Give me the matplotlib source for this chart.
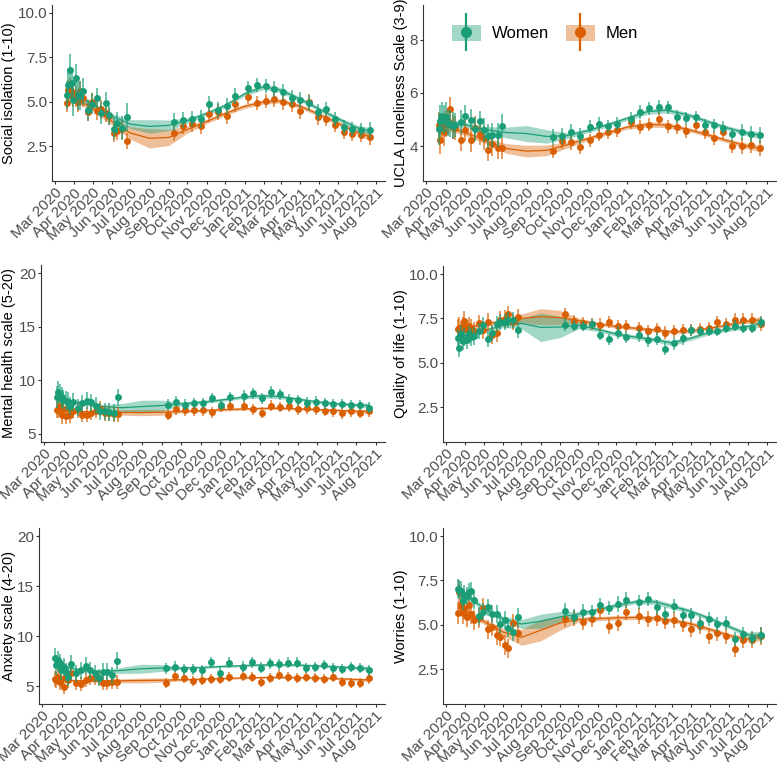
import matplotlib
matplotlib.use("Agg")
import matplotlib.pyplot as plt
import matplotlib.dates as mdates
from matplotlib.lines import Line2D
from matplotlib.patches import Patch
from matplotlib.legend_handler import HandlerTuple
import numpy as np
import pandas as pd

# survey waves (same for every outcome)
survey_dates = ["2020-03-21", "2020-03-23", "2020-03-26", "2020-03-29", "2020-03-31",
                "2020-04-04", "2020-04-07", "2020-04-11", "2020-04-15", "2020-04-23",
                "2020-04-30", "2020-05-08", "2020-05-14", "2020-05-22", "2020-05-28",
                "2020-06-04", "2020-06-10", "2020-06-18", "2020-06-25",
                "2020-09-10", "2020-09-24", "2020-10-08", "2020-10-22", "2020-11-05",
                "2020-11-19", "2020-12-03", "2020-12-17", "2021-01-07", "2021-01-21",
                "2021-02-04", "2021-02-18", "2021-03-04", "2021-03-18", "2021-04-01",
                "2021-04-15", "2021-04-29", "2021-05-13", "2021-05-27", "2021-06-10",
                "2021-06-24", "2021-07-08", "2021-07-22"]

fit_dates = ["2020-03-21", "2020-04-01", "2020-05-01", "2020-06-01", "2020-07-01",
             "2020-08-01", "2020-09-01", "2020-10-01", "2020-11-01", "2020-12-01",
             "2021-01-01", "2021-02-01", "2021-03-01", "2021-04-01", "2021-05-01",
             "2021-06-01", "2021-07-01", "2021-07-22"]

# Social isolation
iso_w = [5.40, 5.97, 6.77, 6.06, 5.08, 6.32, 5.37, 5.35, 5.59, 4.52, 4.90, 5.22, 4.37, 4.93, 4.24, 3.49, 3.81, 3.53, 4.15,
         3.87, 4.00, 4.05, 4.03, 4.88, 4.56, 4.75, 5.31, 5.80, 5.93, 5.91, 5.72, 5.57, 5.23, 5.10, 4.92, 4.41, 4.62, 4.05, 3.60, 3.47, 3.43, 3.40]
iso_m = [4.93, 5.65, 5.75, 5.55, 5.25, 5.30, 5.00, 5.63, 5.22, 4.41, 4.99, 4.50, 4.58, 4.37, 4.18, 3.25, 3.34, 3.45, 2.80,
         3.25, 3.62, 3.73, 3.66, 4.32, 4.41, 4.18, 4.88, 5.27, 4.95, 5.07, 5.14, 4.99, 4.88, 4.48, 4.97, 4.13, 4.05, 3.71, 3.30, 3.19, 3.15, 3.00]
iso_w_err = [0.8, 0.9, 0.9, 0.85, 0.9, 0.8, 0.85, 0.8, 0.75, 0.6, 0.6, 0.55, 0.6, 0.6, 0.55, 0.6, 0.6, 0.65, 0.8,
             0.5, 0.45, 0.45, 0.5, 0.45, 0.45, 0.45, 0.45, 0.4, 0.4, 0.4, 0.45, 0.45, 0.45, 0.45, 0.45, 0.45, 0.4, 0.4, 0.4, 0.4, 0.4, 0.45]
iso_m_err = [0.5, 0.6, 0.6, 0.6, 0.55, 0.6, 0.55, 0.55, 0.5, 0.5, 0.5, 0.5, 0.55, 0.5, 0.5, 0.5, 0.5, 0.55, 0.45,
             0.45, 0.45, 0.45, 0.45, 0.45, 0.45, 0.45, 0.45, 0.4, 0.4, 0.4, 0.4, 0.45, 0.45, 0.45, 0.45, 0.45, 0.4, 0.4, 0.4, 0.4, 0.4, 0.45]
iso_w_fit = [5.75, 5.45, 4.85, 4.20, 3.75, 3.62, 3.68, 3.95, 4.35, 4.80, 5.45, 5.85, 5.65, 5.15, 4.60, 4.05, 3.55, 3.35]
iso_m_fit = [5.45, 5.20, 4.65, 3.90, 3.25, 2.95, 3.00, 3.45, 3.90, 4.35, 4.75, 5.00, 5.05, 4.75, 4.30, 3.80, 3.30, 3.05]
iso_w_band = [0.35, 0.2, 0.15, 0.15, 0.25, 0.38, 0.3, 0.15, 0.12, 0.12, 0.12, 0.15, 0.15, 0.12, 0.12, 0.12, 0.15, 0.2]
iso_m_band = [0.35, 0.2, 0.15, 0.2, 0.35, 0.55, 0.45, 0.2, 0.12, 0.12, 0.12, 0.12, 0.12, 0.12, 0.12, 0.12, 0.15, 0.25]

# UCLA loneliness
ucla_w = [4.65, 4.95, 5.12, 5.00, 5.10, 4.87, 4.85, 4.78, 4.80, 4.91, 5.15, 5.00, 4.66, 4.94, 4.63, 4.38, 4.41, 4.44, 4.78,
          4.34, 4.38, 4.54, 4.40, 4.74, 4.84, 4.75, 4.85, 5.04, 5.29, 5.43, 5.48, 5.46, 5.11, 5.05, 5.09, 4.79, 4.79, 4.70, 4.45, 4.52, 4.45, 4.41]
ucla_m = [4.79, 4.22, 4.75, 4.52, 4.85, 4.94, 5.41, 4.71, 4.70, 4.22, 4.60, 4.25, 4.69, 4.46, 4.31, 3.85, 4.10, 3.93, 3.93,
          3.81, 4.19, 4.18, 3.98, 4.23, 4.44, 4.53, 4.60, 4.90, 4.73, 4.81, 5.04, 4.75, 4.73, 4.56, 4.81, 4.54, 4.31, 4.53, 4.00, 4.00, 4.04, 3.93]
ucla_w_err = [0.6, 0.6, 0.55, 0.55, 0.55, 0.5, 0.5, 0.5, 0.45, 0.45, 0.4, 0.4, 0.45, 0.4, 0.45, 0.45, 0.45, 0.45, 0.45,
              0.3, 0.3, 0.3, 0.3, 0.25, 0.25, 0.25, 0.25, 0.25, 0.25, 0.25, 0.25, 0.25, 0.25, 0.25, 0.25, 0.25, 0.25, 0.25, 0.25, 0.3, 0.3, 0.3]
ucla_m_err = [0.5, 0.5, 0.5, 0.5, 0.5, 0.5, 0.45, 0.45, 0.45, 0.4, 0.4, 0.45, 0.45, 0.4, 0.45, 0.4, 0.45, 0.4, 0.4,
              0.25, 0.3, 0.3, 0.25, 0.25, 0.25, 0.25, 0.25, 0.25, 0.25, 0.25, 0.25, 0.25, 0.25, 0.25, 0.25, 0.25, 0.25, 0.25, 0.25, 0.3, 0.3, 0.3]
ucla_w_fit = [4.95, 4.90, 4.80, 4.62, 4.52, 4.48, 4.37, 4.40, 4.58, 4.80, 5.05, 5.30, 5.35, 5.20, 4.95, 4.70, 4.50, 4.42]
ucla_m_fit = [4.85, 4.75, 4.50, 4.20, 3.92, 3.82, 3.85, 4.05, 4.28, 4.50, 4.72, 4.82, 4.80, 4.65, 4.45, 4.22, 4.02, 3.92]
ucla_w_band = [0.3, 0.15, 0.1, 0.12, 0.2, 0.3, 0.25, 0.12, 0.08, 0.08, 0.08, 0.1, 0.1, 0.08, 0.08, 0.08, 0.1, 0.13]
ucla_m_band = [0.3, 0.15, 0.1, 0.12, 0.18, 0.22, 0.2, 0.12, 0.08, 0.08, 0.08, 0.1, 0.1, 0.08, 0.08, 0.08, 0.1, 0.13]

# Mental health scale
mh_w = [8.46, 8.90, 8.75, 8.40, 8.20, 8.10, 8.00, 7.60, 7.95, 7.45, 7.85, 8.10, 7.95, 7.65, 7.10, 7.10, 7.05, 7.00, 8.40,
        7.74, 8.00, 7.74, 7.87, 7.87, 8.34, 7.71, 8.40, 8.56, 8.78, 8.31, 8.93, 8.68, 8.18, 8.12, 7.93, 8.00, 7.84, 7.78, 7.78, 7.71, 7.71, 7.46]
mh_m = [7.25, 7.30, 7.60, 6.77, 7.30, 6.70, 7.45, 6.75, 7.15, 7.20, 6.80, 6.80, 7.00, 7.15, 7.37, 6.93, 6.93, 6.83, 6.85,
        6.77, 7.30, 7.21, 7.21, 7.21, 7.02, 7.52, 7.62, 7.62, 7.30, 6.99, 7.62, 7.52, 7.59, 7.30, 7.40, 7.30, 7.15, 7.12, 6.93, 7.12, 6.99, 7.15]
mh_w_err = [1.0, 1.0, 0.95, 0.95, 0.9, 0.9, 0.9, 0.85, 0.85, 0.8, 0.8, 0.8, 0.8, 0.8, 0.8, 0.8, 0.8, 0.8, 0.8,
            0.55, 0.5, 0.5, 0.5, 0.5, 0.5, 0.5, 0.5, 0.55, 0.55, 0.55, 0.55, 0.55, 0.5, 0.5, 0.5, 0.5, 0.5, 0.5, 0.5, 0.5, 0.5, 0.55]
mh_m_err = [0.8, 0.8, 0.8, 0.8, 0.8, 0.75, 0.75, 0.75, 0.7, 0.7, 0.7, 0.7, 0.7, 0.7, 0.7, 0.7, 0.7, 0.7, 0.7,
            0.5, 0.5, 0.5, 0.5, 0.5, 0.5, 0.5, 0.5, 0.5, 0.5, 0.5, 0.5, 0.5, 0.5, 0.5, 0.5, 0.5, 0.5, 0.5, 0.5, 0.5, 0.5, 0.55]
mh_w_fit = [8.45, 8.20, 7.85, 7.55, 7.45, 7.55, 7.65, 7.80, 7.95, 8.15, 8.40, 8.55, 8.50, 8.25, 8.00, 7.82, 7.70, 7.65]
mh_m_fit = [7.20, 7.15, 7.08, 7.02, 7.00, 7.00, 7.02, 7.10, 7.18, 7.25, 7.32, 7.38, 7.40, 7.35, 7.28, 7.20, 7.12, 7.10]
mh_w_band = [0.35, 0.2, 0.15, 0.2, 0.4, 0.6, 0.5, 0.2, 0.15, 0.15, 0.15, 0.2, 0.2, 0.15, 0.15, 0.15, 0.15, 0.25]
mh_m_band = [0.3, 0.15, 0.12, 0.15, 0.25, 0.3, 0.28, 0.15, 0.12, 0.12, 0.12, 0.12, 0.12, 0.12, 0.12, 0.12, 0.15, 0.22]

# Quality of life
qol_w = [6.38, 5.86, 6.60, 6.25, 6.45, 6.30, 6.60, 6.45, 6.50, 6.80, 7.15, 6.32, 6.66, 7.16, 7.30, 7.30, 7.44, 7.44, 6.85,
         7.15, 7.10, 7.07, 7.18, 6.59, 6.32, 6.70, 6.46, 6.55, 6.27, 6.36, 5.80, 6.10, 6.38, 6.83, 6.79, 6.79, 6.79, 6.98, 7.10, 6.98, 6.98, 7.30]
qol_m = [6.88, 6.98, 6.80, 7.05, 7.35, 6.85, 7.07, 6.95, 6.80, 7.22, 6.85, 7.29, 6.55, 6.66, 7.44, 7.48, 7.76, 7.31, 7.60,
         7.76, 7.35, 7.25, 7.20, 7.15, 7.29, 7.07, 7.07, 6.95, 6.77, 6.92, 6.70, 6.79, 6.85, 6.85, 6.88, 6.96, 7.29, 7.16, 7.44, 7.44, 7.44, 7.20]
qol_w_err = [0.55, 0.55, 0.55, 0.5, 0.5, 0.5, 0.5, 0.5, 0.5, 0.45, 0.45, 0.45, 0.45, 0.45, 0.45, 0.45, 0.45, 0.45, 0.45,
             0.35, 0.3, 0.3, 0.3, 0.3, 0.3, 0.35, 0.35, 0.35, 0.35, 0.35, 0.35, 0.35, 0.35, 0.3, 0.3, 0.3, 0.3, 0.3, 0.3, 0.3, 0.3, 0.35]
qol_m_err = [0.6, 0.6, 0.55, 0.55, 0.55, 0.55, 0.5, 0.5, 0.5, 0.5, 0.5, 0.5, 0.5, 0.5, 0.5, 0.5, 0.45, 0.45, 0.45,
             0.35, 0.35, 0.35, 0.35, 0.35, 0.35, 0.35, 0.35, 0.35, 0.35, 0.35, 0.35, 0.35, 0.35, 0.35, 0.35, 0.35, 0.35, 0.35, 0.35, 0.35, 0.35, 0.4]
qol_w_fit = [6.35, 6.50, 6.80, 7.10, 7.22, 7.00, 7.02, 7.12, 6.88, 6.62, 6.45, 6.30, 6.12, 6.40, 6.72, 6.90, 7.05, 7.20]
qol_m_fit = [6.85, 6.95, 7.15, 7.35, 7.50, 7.60, 7.55, 7.38, 7.20, 7.05, 6.95, 6.85, 6.75, 6.80, 6.95, 7.15, 7.35, 7.42]
qol_w_band = [0.3, 0.15, 0.12, 0.12, 0.3, 0.8, 0.6, 0.2, 0.12, 0.12, 0.12, 0.12, 0.15, 0.12, 0.12, 0.12, 0.12, 0.2]
qol_m_band = [0.3, 0.15, 0.12, 0.12, 0.25, 0.45, 0.4, 0.15, 0.1, 0.1, 0.1, 0.1, 0.1, 0.1, 0.1, 0.1, 0.12, 0.2]

# Anxiety scale
anx_w = [7.83, 7.10, 7.60, 7.30, 6.60, 6.90, 6.45, 5.95, 7.20, 6.30, 6.60, 7.05, 6.60, 6.27, 5.83, 6.45, 6.45, 6.10, 7.53,
         6.77, 6.93, 6.70, 6.70, 6.60, 7.37, 6.33, 7.33, 6.93, 7.37, 6.83, 7.27, 7.17, 7.33, 7.33, 6.83, 6.93, 7.10, 6.83, 6.70, 6.87, 6.77, 6.60]
anx_m = [5.70, 5.60, 5.93, 5.43, 5.75, 4.93, 6.03, 5.60, 6.27, 5.27, 5.17, 5.60, 5.77, 5.85, 5.77, 5.27, 5.27, 5.43, 5.43,
         5.27, 6.00, 5.77, 5.50, 5.60, 5.67, 5.70, 5.87, 6.00, 5.93, 5.37, 5.77, 6.10, 5.87, 5.77, 5.87, 5.77, 5.70, 5.87, 5.37, 5.33, 5.33, 5.77]
anx_w_err = [1.0, 1.0, 0.95, 0.95, 0.95, 0.9, 0.9, 0.9, 0.9, 0.85, 0.85, 0.85, 0.85, 0.85, 0.85, 0.85, 0.85, 0.85, 0.85,
             0.55, 0.55, 0.55, 0.55, 0.55, 0.55, 0.55, 0.55, 0.55, 0.55, 0.55, 0.55, 0.55, 0.55, 0.55, 0.5, 0.5, 0.5, 0.5, 0.5, 0.5, 0.5, 0.55]
anx_m_err = [0.8, 0.8, 0.8, 0.8, 0.8, 0.75, 0.75, 0.75, 0.75, 0.7, 0.7, 0.7, 0.7, 0.7, 0.7, 0.7, 0.7, 0.7, 0.7,
             0.5, 0.5, 0.5, 0.5, 0.5, 0.5, 0.5, 0.5, 0.5, 0.5, 0.5, 0.5, 0.5, 0.5, 0.5, 0.5, 0.5, 0.5, 0.5, 0.5, 0.5, 0.5, 0.55]
anx_w_fit = [7.20, 6.95, 6.60, 6.45, 6.55, 6.72, 6.80, 6.80, 6.85, 6.95, 7.02, 7.10, 7.12, 7.10, 7.02, 6.92, 6.82, 6.75]
anx_m_fit = [5.62, 5.58, 5.52, 5.50, 5.52, 5.55, 5.58, 5.62, 5.68, 5.74, 5.80, 5.85, 5.86, 5.85, 5.80, 5.74, 5.66, 5.60]
anx_w_band = [0.35, 0.2, 0.15, 0.15, 0.3, 0.45, 0.35, 0.15, 0.12, 0.12, 0.12, 0.12, 0.12, 0.12, 0.12, 0.12, 0.15, 0.25]
anx_m_band = [0.3, 0.15, 0.12, 0.12, 0.2, 0.25, 0.22, 0.12, 0.1, 0.1, 0.1, 0.1, 0.1, 0.1, 0.1, 0.1, 0.12, 0.2]

# Worries
wor_w = [7.04, 6.98, 6.90, 6.36, 6.70, 6.65, 6.85, 6.92, 6.40, 5.50, 5.75, 5.98, 5.62, 5.60, 5.04, 5.28, 4.81, 4.58, 5.42,
         5.79, 5.47, 5.75, 5.72, 6.13, 5.94, 6.19, 6.38, 6.28, 6.45, 5.98, 5.62, 6.08, 5.57, 5.57, 5.08, 5.32, 5.04, 5.09, 4.19, 4.49, 4.25, 4.43]
wor_m = [5.66, 6.85, 6.13, 5.66, 5.94, 5.47, 6.13, 5.60, 5.28, 5.38, 5.94, 4.75, 4.90, 4.43, 4.34, 3.87, 3.68, 5.09, 4.53,
         5.32, 5.40, 5.19, 5.34, 5.81, 4.96, 5.13, 5.70, 5.51, 5.32, 5.38, 5.23, 5.28, 5.04, 4.75, 4.96, 4.38, 4.57, 4.38, 3.62, 4.13, 4.15, 4.38]
wor_w_err = [0.55, 0.55, 0.55, 0.55, 0.55, 0.5, 0.5, 0.5, 0.5, 0.5, 0.5, 0.5, 0.5, 0.5, 0.5, 0.5, 0.5, 0.5, 0.55,
             0.45, 0.4, 0.4, 0.4, 0.4, 0.4, 0.45, 0.45, 0.4, 0.4, 0.4, 0.4, 0.4, 0.4, 0.4, 0.4, 0.4, 0.4, 0.4, 0.4, 0.4, 0.4, 0.45]
wor_m_err = [0.6, 0.6, 0.6, 0.6, 0.6, 0.6, 0.55, 0.55, 0.55, 0.55, 0.55, 0.55, 0.55, 0.55, 0.55, 0.55, 0.55, 0.55, 0.55,
             0.45, 0.45, 0.45, 0.45, 0.45, 0.45, 0.45, 0.45, 0.45, 0.45, 0.45, 0.45, 0.45, 0.45, 0.45, 0.45, 0.45, 0.45, 0.45, 0.45, 0.45, 0.45, 0.5]
wor_w_fit = [7.00, 6.70, 5.95, 5.35, 5.05, 5.20, 5.45, 5.60, 5.85, 6.10, 6.30, 6.30, 6.05, 5.75, 5.35, 4.90, 4.45, 4.40]
wor_m_fit = [5.95, 5.75, 5.20, 4.60, 4.30, 4.70, 5.10, 5.30, 5.35, 5.40, 5.42, 5.38, 5.25, 5.05, 4.75, 4.40, 4.20, 4.35]
wor_w_band = [0.35, 0.2, 0.15, 0.15, 0.25, 0.4, 0.3, 0.15, 0.12, 0.12, 0.12, 0.15, 0.15, 0.12, 0.12, 0.12, 0.15, 0.25]
wor_m_band = [0.4, 0.2, 0.15, 0.2, 0.45, 0.6, 0.4, 0.15, 0.12, 0.12, 0.12, 0.12, 0.12, 0.12, 0.12, 0.12, 0.15, 0.25]

GREEN = "#1b9e77"
ORANGE = "#d95f02"

plt.rcParams["font.family"] = ["Liberation Sans", "DejaVu Sans"]

W, H = 777, 762
fig = plt.figure(figsize=(W / 100, H / 100), dpi=100)

dates = pd.to_datetime(survey_dates)
fdates = pd.to_datetime(fit_dates)
span = dates.max() - dates.min()
xlim = (dates.min() - span * 0.05, dates.max() + span * 0.05)


def add_ax(left, top, right, bottom):
    # pixel box -> figure fraction
    return fig.add_axes([left / W, 1 - bottom / H, (right - left) / W, (bottom - top) / H])


def draw_panel(box, label_x, ylabel, lims, yticks, fmt, w, m, w_err, m_err, w_fit, m_fit, w_band, m_band):
    ax = add_ax(*box)
    for fit, band, col in [(m_fit, m_band, ORANGE), (w_fit, w_band, GREEN)]:
        fit = np.array(fit)
        band = np.array(band)
        ax.fill_between(fdates, fit - band, fit + band, color=col, alpha=0.4, lw=0)
    for fit, col in [(m_fit, ORANGE), (w_fit, GREEN)]:
        ax.plot(fdates, fit, color=col, lw=0.9)
    for vals, err, col in [(m, m_err, ORANGE), (w, w_err, GREEN)]:
        ax.errorbar(dates, vals, yerr=err, fmt="none", ecolor=col, elinewidth=1.1,
                    alpha=0.8, capsize=0)
        ax.plot(dates, vals, "o", color=col, ms=5, mec="none")

    ax.set_xlim(xlim)
    ax.set_ylim(lims)
    ax.set_yticks(yticks)
    ax.set_yticklabels([fmt.format(v) for v in yticks])
    ax.xaxis.set_major_locator(mdates.MonthLocator())
    ax.xaxis.set_major_formatter(mdates.DateFormatter("%b %Y"))
    for lab in ax.get_xticklabels():
        lab.set_rotation(45)
        lab.set_ha("right")
        lab.set_va("top")
        lab.set_rotation_mode("anchor")
    ax.spines["top"].set_visible(False)
    ax.spines["right"].set_visible(False)
    for s in ["left", "bottom"]:
        ax.spines[s].set_linewidth(0.8)
        ax.spines[s].set_color("#333333")
    ax.tick_params(axis="both", labelsize=11, labelcolor="#4d4d4d", color="#333333",
                   length=2, width=0.8, pad=1.5)
    ax.set_ylabel(ylabel, fontsize=10.5, color="black")
    # right edge of the rotated label, in pixels
    ax.yaxis.set_label_coords((label_x - box[0]) / (box[2] - box[0]), 0.5)
    return ax


draw_panel((52, 5, 385, 181), 16, "Social isolation (1-10)", (0.55, 10.45), [2.5, 5.0, 7.5, 10.0], "{:.1f}",
           iso_w, iso_m, iso_w_err, iso_m_err, iso_w_fit, iso_m_fit, iso_w_band, iso_m_band)
draw_panel((423, 5, 776, 181), 408, "UCLA Loneliness Scale (3-9)", (2.7, 9.3), [4, 6, 8], "{:.0f}",
           ucla_w, ucla_m, ucla_w_err, ucla_m_err, ucla_w_fit, ucla_m_fit, ucla_w_band, ucla_m_band)
draw_panel((41, 265, 385, 442), 16, "Mental health scale (5-20)", (4.25, 20.75), [5, 10, 15, 20], "{:.0f}",
           mh_w, mh_m, mh_w_err, mh_m_err, mh_w_fit, mh_m_fit, mh_w_band, mh_m_band)
draw_panel((443, 266, 776, 442), 408, "Quality of life (1-10)", (0.55, 10.45), [2.5, 5.0, 7.5, 10.0], "{:.1f}",
           qol_w, qol_m, qol_w_err, qol_m_err, qol_w_fit, qol_m_fit, qol_w_band, qol_m_band)
draw_panel((39, 528, 385, 704), 16, "Anxiety scale (4-20)", (3.2, 20.8), [5, 10, 15, 20], "{:.0f}",
           anx_w, anx_m, anx_w_err, anx_m_err, anx_w_fit, anx_m_fit, anx_w_band, anx_m_band)
draw_panel((443, 528, 776, 704), 408, "Worries (1-10)", (0.55, 10.45), [2.5, 5.0, 7.5, 10.0], "{:.1f}",
           wor_w, wor_m, wor_w_err, wor_m_err, wor_w_fit, wor_m_fit, wor_w_band, wor_m_band)

# legend: ribbon key + error bar + point, all overlaid
handles = []
for col in [GREEN, ORANGE]:
    handles.append((Patch(facecolor=col, alpha=0.4, edgecolor="none"),
                    Line2D([], [], marker="|", ms=28, mew=1.6, color=col, ls="none"),
                    Line2D([], [], marker="o", ms=8, color=col, mec="none", ls="none")))
fig.legend(handles, ["Women", "Men"], handler_map={tuple: HandlerTuple(ndivide=1)},
           loc="center", bbox_to_anchor=(545 / W, 1 - 33 / H), ncol=2, frameon=False,
           fontsize=12, handlelength=1.75, handleheight=1.15, handletextpad=0.65,
           columnspacing=1.0)

fig.savefig("out.png", dpi=100)
